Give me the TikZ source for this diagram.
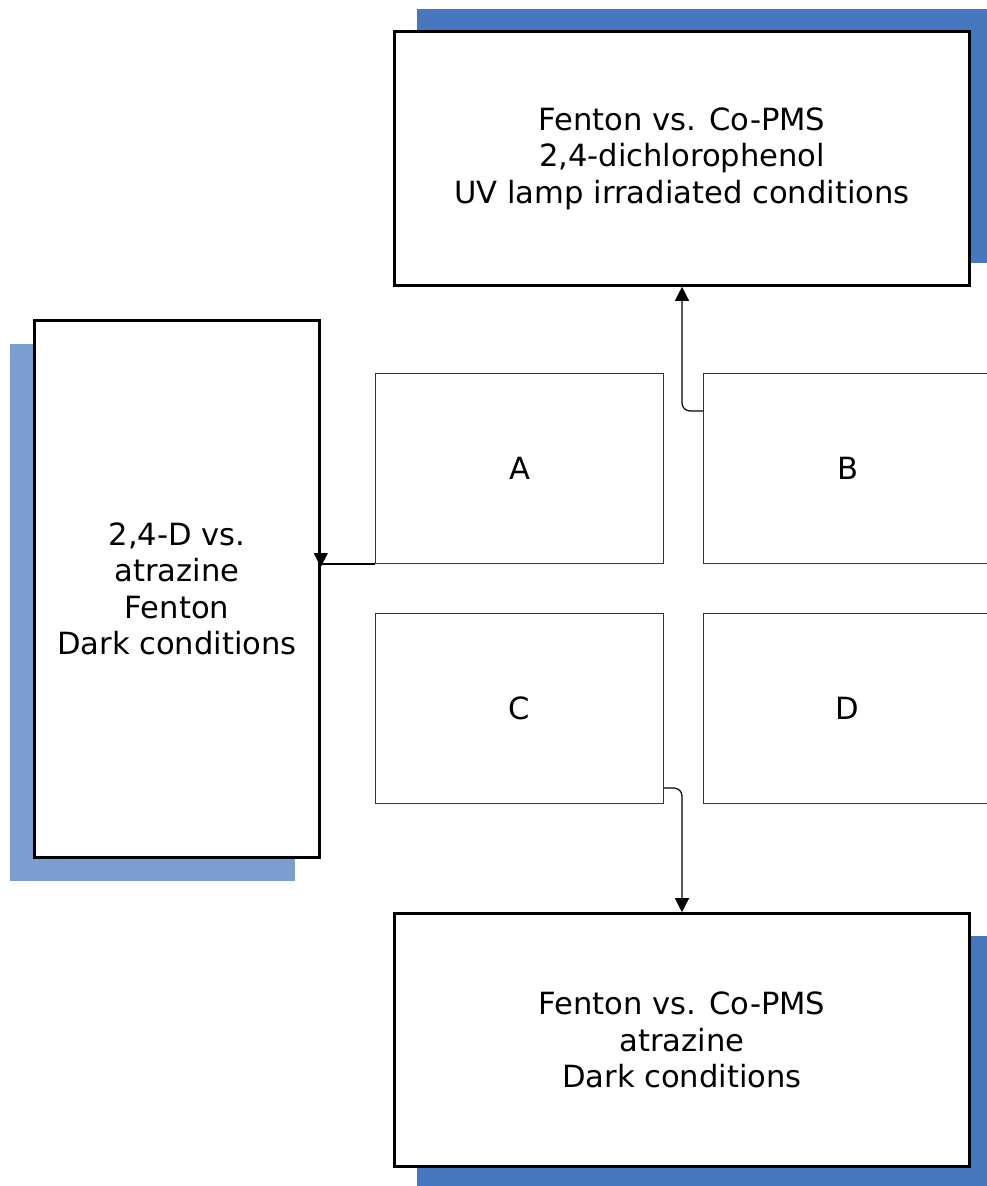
\documentclass[tikz,border=0pt]{standalone}
\usepackage{fontspec}
\setmainfont{DejaVu Sans}
\usetikzlibrary{positioning}
\usetikzlibrary{shadows}
\usetikzlibrary{arrows.meta}

\definecolor{deepblue}{HTML}{4677BF}
\definecolor{paleblue}{HTML}{7C9DCF}

\begin{document}
\begin{tikzpicture}[
    x=1pt, y=-1pt,
    node distance=49pt and 39pt,
    bigbox/.style={draw,line width=2.6pt,fill=white,align=center,font=\fontsize{30.6}{36.5}\selectfont},
    panel/.style={draw=black!80,line width=1pt,minimum width=288pt,minimum height=190pt,font=\fontsize{30.6}{36.5}\selectfont},
    conn/.style={line width=1.2pt,rounded corners=8pt,-{Triangle[width=14pt,length=14pt]}}
    ]

    \useasboundingbox (0,0) rectangle (986,1186);

    \node[bigbox, minimum width=575pt, minimum height=254pt,
        drop shadow={shadow xshift=22pt,shadow yshift=23pt,fill=deepblue,opacity=1}]
        (dcp) at (682,158.5) {Fenton vs. Co-PMS\\2,4-dichlorophenol\\UV lamp irradiated conditions};
    \node[bigbox, minimum width=285pt, minimum height=537pt,
        drop shadow={shadow xshift=-25pt,shadow yshift=-23pt,fill=paleblue,opacity=1}]
        (dark) at (177,589) {2,4-D vs.\\atrazine\\Fenton\\Dark conditions};
    \node[bigbox, minimum width=575pt, minimum height=253pt,
        drop shadow={shadow xshift=22pt,shadow yshift=-22pt,fill=deepblue,opacity=1}]
        (atz) at (682,1040) {Fenton vs. Co-PMS\\atrazine\\Dark conditions};

    % the four panels
    \node[panel] (a) at (519.5,468.5) {A};
    \node[panel, right=of a] (b) {B};
    \node[panel, below=of a] (c) {C};
    \node[panel, right=of c] (d) {D};

    \path (a.south west) -- (a.south west -| dark.east) coordinate (hit);

    \draw[conn] ([yshift=-38pt]b.north west) -| (dcp.south);
    \draw[conn] ([yshift=16pt]c.south east) -| (atz.north);
    \draw[line width=1.2pt] (a.south west) -- (hit);
    \draw[conn] ([yshift=10pt]hit) -- ([yshift=-3pt]hit);

\end{tikzpicture}
\end{document}
